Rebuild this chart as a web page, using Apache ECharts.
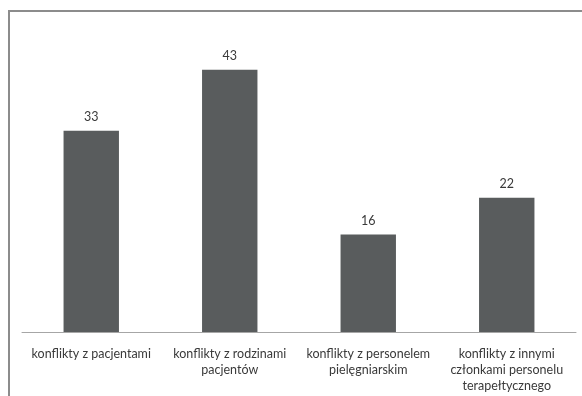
<!DOCTYPE html>
<html>
<head>
<meta charset="utf-8">
<script src="https://cdn.jsdelivr.net/npm/echarts@6/dist/echarts.min.js"></script>
<style>
  html, body { margin: 0; padding: 0; background: #fff; }
  #wrap { position: relative; width: 582px; height: 396px; overflow: hidden; }
  #frame { position: absolute; left: 8px; top: 10px; width: 600px; height: 420px;
           border-left: 2px solid #8c8c8c; border-top: 2px solid #8c8c8c; }
  #chart { position: absolute; left: 0; top: 0; width: 582px; height: 396px; }
</style>
</head>
<body>
<div id="wrap">
  <div id="frame"></div>
  <div id="chart"></div>
</div>
<script>
// Kategorie konfliktów i liczba wskazań
const categories = [
  'konflikty z pacjentami',
  'konflikty z rodzinami\npacjentów',
  'konflikty z personelem\npielęgniarskim',
  'konflikty z innymi\nczłonkami personelu\nterapełtycznego'
];
const counts = [33, 43, 16, 22];
const yMax = 50;

const chart = echarts.init(document.getElementById('chart'), null, { renderer: 'canvas' });
chart.setOption({
  animation: false,
  backgroundColor: 'transparent',
  grid: { left: 22, right: 6, top: 27, bottom: 64 },
  xAxis: {
    type: 'category',
    data: categories,
    axisLine: { show: true, lineStyle: { color: '#a6a6a6', width: 1 } },
    axisTick: { show: false },
    axisLabel: {
      interval: 0,
      color: '#3a3a3a',
      fontFamily: 'Lato',
      fontSize: 12.5,
      lineHeight: 16,
      margin: 14
    }
  },
  yAxis: {
    type: 'value',
    min: 0,
    max: yMax,
    show: false
  },
  series: [{
    type: 'bar',
    data: counts,
    barWidth: '40%',
    itemStyle: { color: '#595c5d' },
    label: {
      show: true,
      position: 'top',
      distance: 7,
      color: '#3a3a3a',
      fontFamily: 'Lato',
      fontSize: 12.5
    }
  }]
});
</script>
</body>
</html>
